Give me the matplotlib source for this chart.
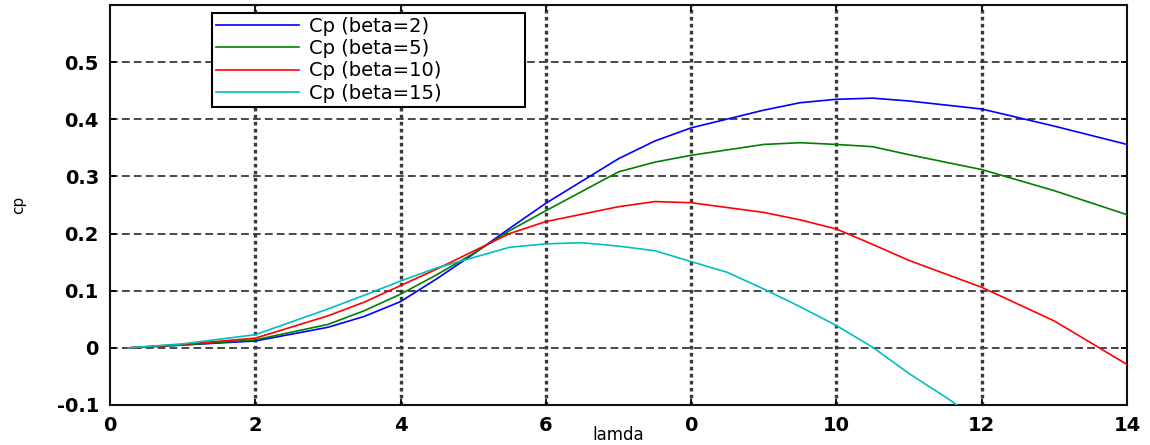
import matplotlib
matplotlib.use("Agg")
import matplotlib.pyplot as plt

# ---- data ----
lam = [0.25, 1, 2, 3, 3.5, 4, 4.5, 5, 5.5, 6, 7, 7.5, 8, 9, 9.5, 10, 10.5, 11, 12, 13, 14]
cp_beta2 = [0.000, 0.005, 0.012, 0.036, 0.055, 0.081, 0.121, 0.164, 0.209, 0.253, 0.331,
            0.362, 0.385, 0.416, 0.429, 0.435, 0.437, 0.432, 0.418, 0.388, 0.356]
cp_beta5 = [0.000, 0.005, 0.014, 0.041, 0.065, 0.094, 0.128, 0.165, 0.205, 0.240, 0.308,
            0.325, 0.337, 0.356, 0.359, 0.356, 0.352, 0.338, 0.312, 0.275, 0.233]
cp_beta10 = [0.000, 0.006, 0.017, 0.056, 0.080, 0.109, 0.138, 0.169, 0.200, 0.221, 0.247,
             0.256, 0.254, 0.237, 0.224, 0.208, 0.181, 0.153, 0.106, 0.047, -0.029]
lam_beta15 = [0.25, 1, 2, 3, 3.5, 4, 4.5, 5, 5.5, 6, 6.5, 7, 7.5, 8, 8.5, 9, 9.5, 10,
              10.5, 11, 11.5, 12]
cp_beta15 = [0.000, 0.007, 0.023, 0.068, 0.092, 0.117, 0.140, 0.158, 0.176, 0.182, 0.184,
             0.178, 0.170, 0.151, 0.132, 0.103, 0.072, 0.039, 0.001, -0.045, -0.086, -0.130]

labels = ["Cp (beta=2)", "Cp (beta=5)", "Cp (beta=10)", "Cp (beta=15)"]
colors = ["#0000ff", "#007f00", "#ff0000", "#00bfbf"]

xticks = [0, 2, 4, 6, 8, 10, 12, 14]
xticklabels = ["0", "2", "4", "6", "0", "10", "12", "14"]
yticks = [-0.1, 0, 0.1, 0.2, 0.3, 0.4, 0.5]
yticklabels = ["-0.1", "0", "0.1", "0.2", "0.3", "0.4", "0.5"]

plt.rcParams['font.family'] = ['DejaVu Sans']

fig = plt.figure(figsize=(11.5, 4.45), dpi=100)
ax = fig.add_axes([110/1150, 40/445, 1017/1150, 400/445])

series = [(lam, cp_beta2), (lam, cp_beta5), (lam, cp_beta10), (lam_beta15, cp_beta15)]
for (xs, ys), lab, c in zip(series, labels, colors):
    ax.plot(xs, ys, color=c, lw=1.2, label=lab, zorder=3)

ax.set_xlim(0, 14)
ax.set_ylim(-0.1, 0.6)
ax.set_xticks(xticks)
ax.set_xticklabels(xticklabels)
ax.set_yticks(yticks)
ax.set_yticklabels(yticklabels)

# grid: horizontal dashed, vertical thick dotted
for y in yticks[1:]:
    ax.axhline(y, color="#3a3a3a", lw=1.3, ls=(0, (4.3, 2.3)), zorder=1)
for x in xticks[1:-1]:
    ax.axvline(x, color="#3a3a3a", lw=2.4, ls=(0, (1.1, 1.0)), zorder=1)

ax.tick_params(direction="in", top=True, right=True, length=4, width=1.3,
               labelsize=14, pad=8)
for lab in ax.get_xticklabels() + ax.get_yticklabels():
    lab.set_fontweight("bold")
for s in ax.spines.values():
    s.set_linewidth(1.5)
    s.set_color("#111111")

ax.set_xlabel("lamda", fontsize=12, va="center")
ax.xaxis.set_label_coords(0.5, -0.075)
ax.set_ylabel("cp", fontsize=11, va="center")
ax.yaxis.set_label_coords(-0.09, 0.5)

leg = ax.legend(loc="upper left", bbox_to_anchor=(0.100, 0.75, 0.308, 0.23),
                mode="expand", borderaxespad=0, fontsize=14, labelspacing=0.17,
                handlelength=4.3, handletextpad=0.5, borderpad=0.2,
                fancybox=False, framealpha=1, edgecolor="black")
leg.get_frame().set_linewidth(1.5)
leg.set_zorder(5)

fig.savefig("out.png", dpi=100)
